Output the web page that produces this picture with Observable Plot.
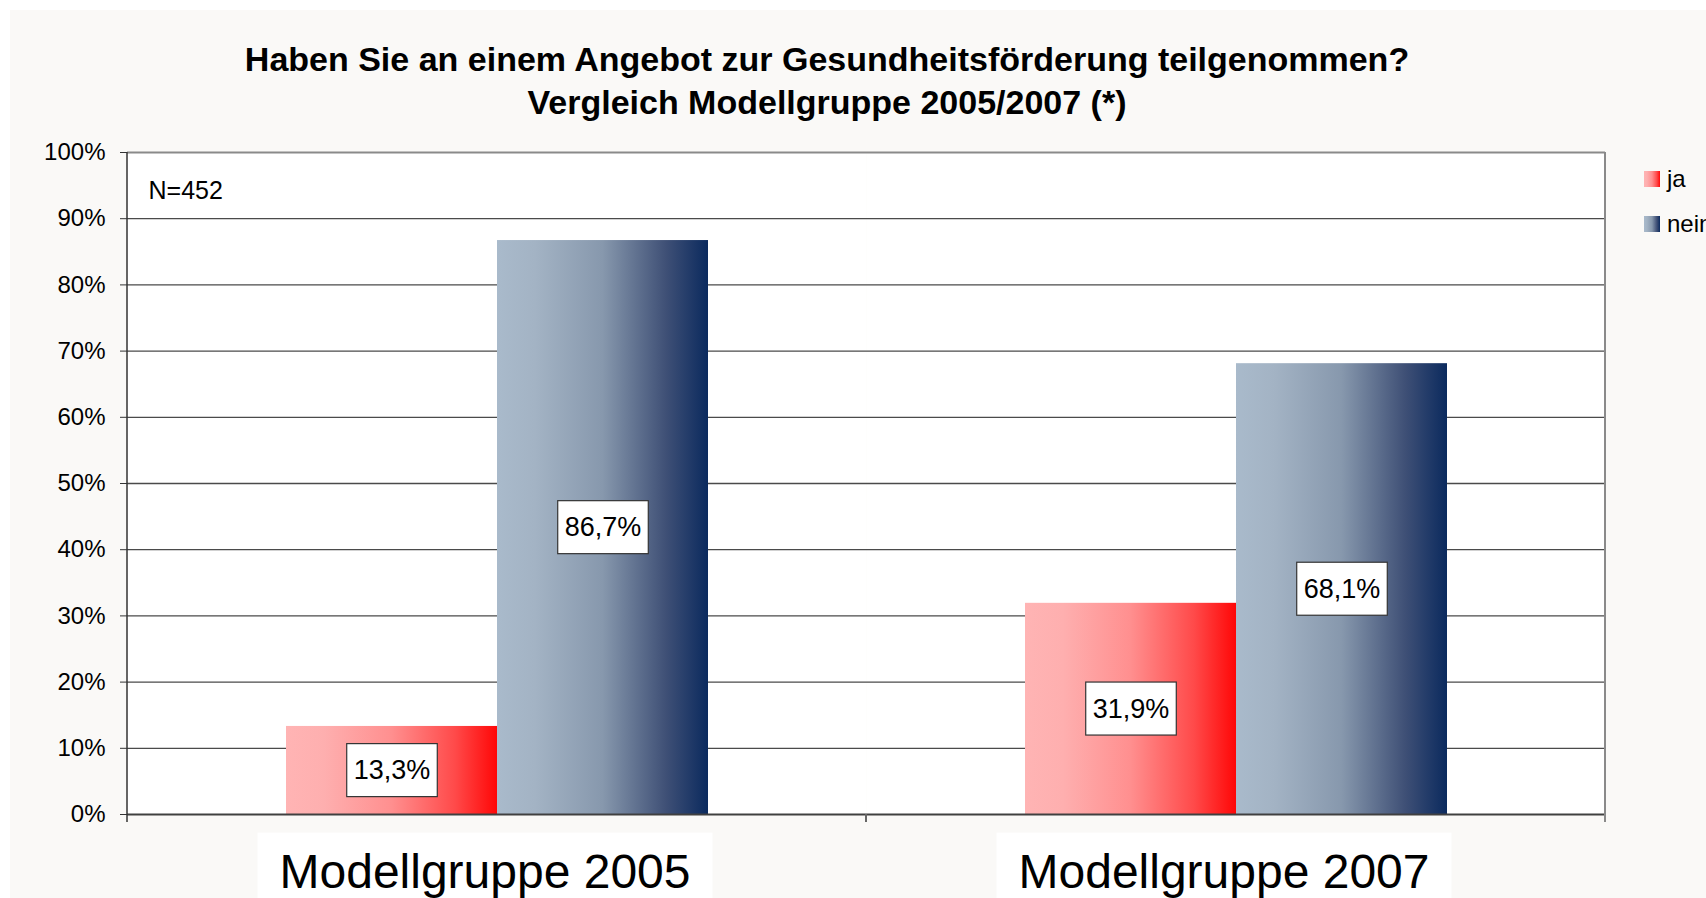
<!DOCTYPE html>
<html>
<head>
<meta charset="utf-8">
<script src="https://cdn.jsdelivr.net/npm/d3@7"></script>
<script src="https://cdn.jsdelivr.net/npm/@observablehq/plot@0.6"></script>
<style>
html,body{margin:0;padding:0;background:#fff;overflow:hidden;width:1706px;height:898px;}
body{font-family:"Liberation Sans",Arial,sans-serif;color:#000;}
#panel{position:absolute;left:10px;top:10px;width:1696px;height:888px;background:#faf9f7;}
#title{position:absolute;left:0;top:38px;width:1654px;text-align:center;font-weight:bold;font-size:34px;line-height:43px;}
#chart{position:absolute;left:0;top:130px;}
#legend{position:absolute;left:1644px;top:163px;font-size:24px;line-height:32px;}
#legend .item{display:flex;align-items:center;height:32px;margin-bottom:13px;white-space:nowrap;}
#legend .sw{width:16px;height:16px;margin-right:7px;}
</style>
</head>
<body>
<div id="panel"></div>
<div id="title"></div>
<div id="chart"></div>
<div id="legend"></div>
<script>
// ---- data ----
const titleLines = ["Haben Sie an einem Angebot zur Gesundheitsförderung teilgenommen?", "Vergleich Modellgruppe 2005/2007 (*)"];
const groups = ["Modellgruppe 2005", "Modellgruppe 2007"];
const series = ["ja", "nein"];
const jaValues = [13.3, 31.9];
const neinValues = [86.7, 68.1];
const yTicks = [0, 10, 20, 30, 40, 50, 60, 70, 80, 90, 100];
const note = "N=452";

const gradients = {
  ja: [[0, "#ffb4b4"], [0.18, "#feafaf"], [0.5, "#ff8f8f"], [0.8, "#ff4a4a"], [1, "#ff0707"]],
  nein: [[0, "#a9bacb"], [0.18, "#a3b3c4"], [0.5, "#8798ad"], [0.8, "#3f5076"], [1, "#0b2a5e"]]
};

const data = groups.flatMap((g, i) => [
  {group: g, series: "ja", value: jaValues[i]},
  {group: g, series: "nein", value: neinValues[i]}
]);
const fmt = v => v.toFixed(1).replace(".", ",") + "%";

// title
document.getElementById("title").innerHTML = titleLines.map(t => `<div>${t}</div>`).join("");

// legend
const css = s => `linear-gradient(to right, ${gradients[s].map(([o, c]) => `${c} ${o * 100}%`).join(", ")})`;
document.getElementById("legend").innerHTML = series.map(s =>
  `<div class="item"><div class="sw" style="background:${css(s)}"></div><span>${s}</span></div>`).join("");

const chart = Plot.plot({
  width: 1706,
  height: 768,
  marginLeft: 127,
  marginRight: 101,
  marginTop: 22,
  marginBottom: 84,
  style: {background: "transparent", fontFamily: "Liberation Sans, Arial, sans-serif", color: "#000", overflow: "visible", maxWidth: "none"},
  fx: {domain: groups, padding: 0, axis: null, label: null},
  x: {domain: series, paddingInner: 0, paddingOuter: 0.744, axis: null, label: null},
  y: {domain: [0, 100], label: null},
  marks: [
    Plot.frame({fill: "white", stroke: "none"}),
    Plot.ruleY(yTicks.filter(d => d > 0 && d < 100), {stroke: "#4a4a4a", strokeWidth: 1.3}),
    Plot.ruleY([100], {stroke: "#8a8a8a", strokeWidth: 2}),
    Plot.barY(data.filter(d => d.series === "ja"), {fx: "group", x: "series", y: "value", fill: "url(#grad-ja)"}),
    Plot.barY(data.filter(d => d.series === "nein"), {fx: "group", x: "series", y: "value", fill: "url(#grad-nein)"}),
    Plot.ruleY([0], {stroke: "#404040", strokeWidth: 2}),
    Plot.axisY({ticks: yTicks, tickFormat: d => d + "%", tickSize: 7, tickPadding: 15, fontSize: 24, stroke: "#333", label: null}),
    Plot.text(data, {fx: "group", x: "series", y: d => d.value / 2, text: d => fmt(d.value), fontSize: 27, lineAnchor: "middle", fill: "#000"}),
    Plot.text([note], {fx: () => groups[0], text: d => d, frameAnchor: "top-left", dx: 21, dy: 38, fontSize: 25, textAnchor: "start", lineAnchor: "middle", fill: "#000"}),
    Plot.text(groups, {fx: d => d, text: d => d, frameAnchor: "bottom", dx: -12, dy: 39, lineAnchor: "top", fontSize: 48, fill: "#000"})
  ]
});
document.getElementById("chart").append(chart);

const svg = d3.select(chart);
const defs = svg.insert("defs", ":first-child");
for (const s of series) {
  const lg = defs.append("linearGradient").attr("id", "grad-" + s).attr("x1", 0).attr("x2", 1).attr("y1", 0).attr("y2", 0);
  for (const [o, c] of gradients[s]) lg.append("stop").attr("offset", o).attr("stop-color", c);
}

const valueLabels = new Set(data.map(d => fmt(d.value)));
const groupLabels = new Set(groups);
const texts = [];
svg.selectAll("text").each(function () { texts.push(this); });
for (const t of texts) {
  const s = t.textContent;
  let box = null;
  const b = t.getBBox();
  if (valueLabels.has(s)) {
    box = {x: b.x - 7, y: b.y + b.height / 2 - 26.5, w: b.width + 14, h: 53, stroke: "#333"};
  } else if (groupLabels.has(s)) {
    box = {x: b.x - 22, y: b.y - 12, w: b.width + 44, h: 120, stroke: "none"};
  }
  if (!box) continue;
  const r = document.createElementNS("http://www.w3.org/2000/svg", "rect");
  const tr = t.getAttribute("transform");
  if (tr) r.setAttribute("transform", tr);
  r.setAttribute("x", box.x); r.setAttribute("y", box.y);
  r.setAttribute("width", box.w); r.setAttribute("height", box.h);
  r.setAttribute("fill", "white"); r.setAttribute("stroke", box.stroke); r.setAttribute("stroke-width", 1.2);
  t.parentNode.insertBefore(r, t);
}

// axis frame lines derived from the plot's scales
const fx = chart.scale("fx");
const y = chart.scale("y");
const [x0] = fx.range;
const step = fx.step ?? fx.bandwidth;
const yBottom = Math.max(...y.range), yTop = Math.min(...y.range);
const edges = d3.range(groups.length + 1).map(i => x0 + i * step);
const g = svg.append("g");
edges.forEach((x, i) => {
  const first = i === 0, last = i === edges.length - 1;
  g.append("line").attr("x1", x).attr("x2", x)
    .attr("y1", first || last ? yTop : yBottom).attr("y2", yBottom + 8)
    .attr("stroke", first ? "#333" : (last ? "#8a8a8a" : "#666"))
    .attr("stroke-width", first ? 1.5 : 2);
});
</script>
</body>
</html>
